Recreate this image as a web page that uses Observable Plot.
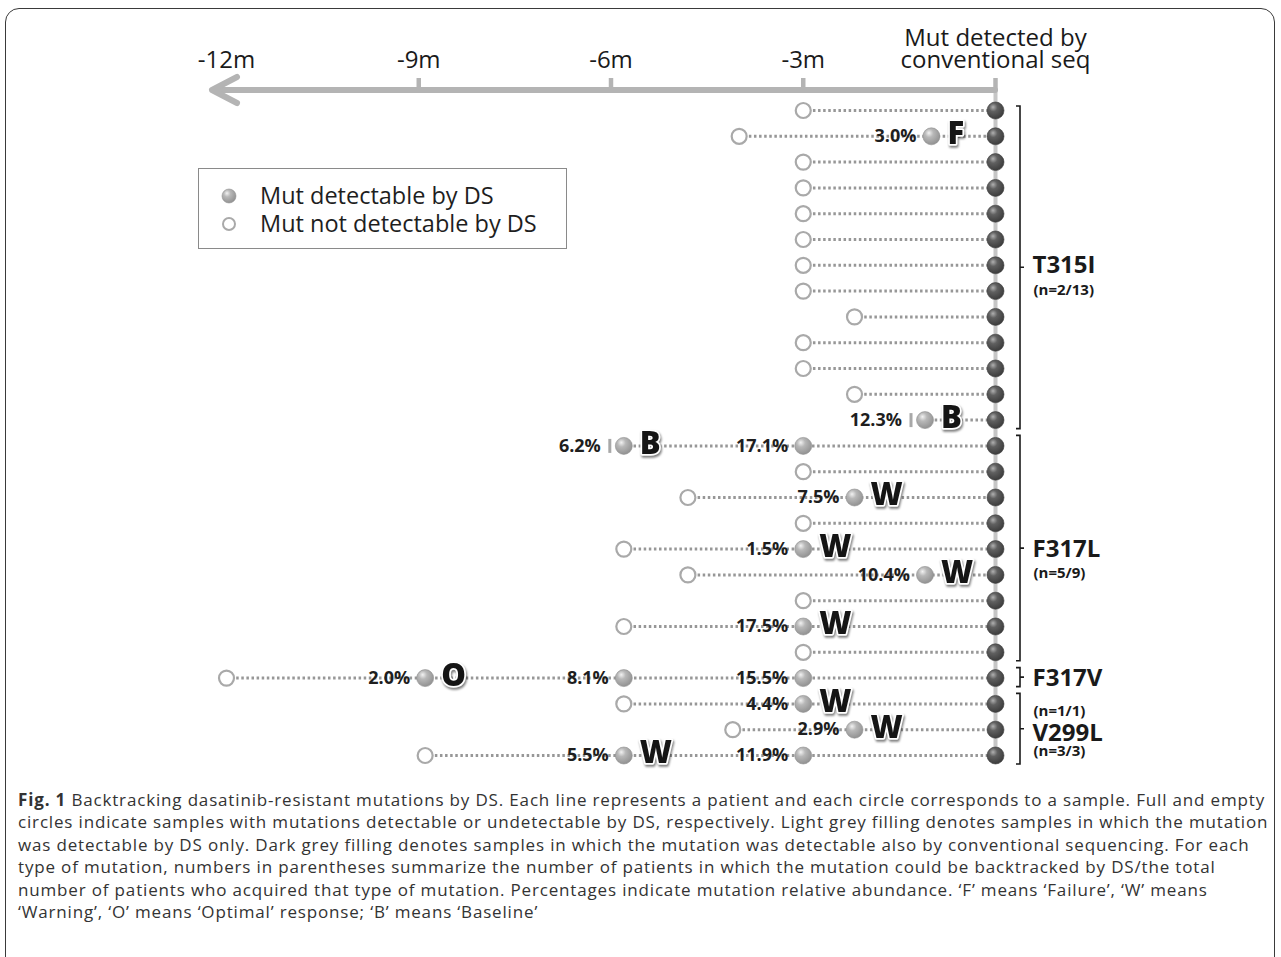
<!DOCTYPE html>
<html>
<head>
<meta charset="utf-8">
<script src="https://cdn.jsdelivr.net/npm/d3@7"></script>
<script src="https://cdn.jsdelivr.net/npm/@observablehq/plot@0.6"></script>
<style>
  body { margin: 0; background: #fff; }
  #wrap { position: relative; width: 1281px; height: 957px; overflow: hidden; font-family: "Open Sans", sans-serif; }
  #frame { position: absolute; left: 5px; top: 8px; width: 1270px; height: 1000px; border: 1.6px solid #3a3a3a; border-radius: 14px; box-sizing: border-box; }
  #chart { position: absolute; left: 0; top: 0; }
  #legend { position: absolute; left: 198px; top: 168px; width: 369px; height: 81px; border: 1.5px solid #8a8a8a; box-sizing: border-box; background: #fff; }
  #caption { position: absolute; left: 18px; top: 789px; font-size: 17px; line-height: 22.4px; color: #333; white-space: nowrap; }
  #caption div { white-space: nowrap; }
</style>
</head>
<body>
<div id="wrap">
  <div id="frame"></div>
  <div id="chart"></div>
  <div id="legend"></div>
  <div id="caption"></div>
</div>
<script>
// ---------------- DATA ----------------
const groupNames  = ["T315I", "F317L", "F317V", "V299L"];
const groupCounts = ["(n=2/13)", "(n=5/9)", "(n=1/1)", "(n=3/3)"];
const groupSizes  = [13, 9, 1, 3];

// Samples taken before conventional-seq detection (row = patient, top to bottom)
const sampleRow      = [0, 1, 1, 2, 3, 4, 5, 6, 7, 8, 9, 10, 11, 12, 13, 13, 14, 15, 15, 16, 17, 17, 18, 18, 19, 20, 20, 21, 22, 22, 22, 22, 23, 23, 24, 24, 25, 25, 25];
const sampleMonth    = [-3, -4.0, -1.0, -3, -3, -3, -3, -3, -3, -2.2, -3, -3, -2.2, -1.1, -5.8, -3, -3, -4.8, -2.2, -3, -5.8, -3, -4.8, -1.1, -3, -5.8, -3, -3, -12, -8.9, -5.8, -3, -5.8, -3, -4.1, -2.2, -8.9, -5.8, -3];
const sampleDetected = [0, 0, 1, 0, 0, 0, 0, 0, 0, 0, 0, 0, 0, 1, 1, 1, 0, 0, 1, 0, 0, 1, 0, 1, 0, 0, 1, 0, 0, 1, 1, 1, 0, 1, 0, 1, 0, 1, 1];
const samplePct      = ["", "", "3.0%", "", "", "", "", "", "", "", "", "", "", "12.3%", "6.2%", "17.1%", "", "", "7.5%", "", "", "1.5%", "", "10.4%", "", "", "17.5%", "", "", "2.0%", "8.1%", "15.5%", "", "4.4%", "", "2.9%", "", "5.5%", "11.9%"];
const sampleResp     = ["", "", "F", "", "", "", "", "", "", "", "", "", "", "B", "B", "", "", "", "W", "", "", "W", "", "W", "", "", "W", "", "", "O", "", "", "", "W", "", "W", "", "W", ""];

const convMonth = 0; // every patient: mutation detected by conventional seq at month 0

const tickMonths     = [-12, -9, -6, -3, 0];
const tickLabels     = ["-12m", "-9m", "-6m", "-3m", "Mut detected by\nconventional seq"];
const tickMarkMonths = [-9, -6, -3, 0];

const legendLabels = ["Mut detectable by DS", "Mut not detectable by DS"];

const captionLines = [
  "<b>Fig. 1</b> Backtracking dasatinib-resistant mutations by DS. Each line represents a patient and each circle corresponds to a sample. Full and empty",
  "circles indicate samples with mutations detectable or undetectable by DS, respectively. Light grey filling denotes samples in which the mutation",
  "was detectable by DS only. Dark grey filling denotes samples in which the mutation was detectable also by conventional sequencing. For each",
  "type of mutation, numbers in parentheses summarize the number of patients in which the mutation could be backtracked by DS/the total",
  "number of patients who acquired that type of mutation. Percentages indicate mutation relative abundance. \u2018F\u2019 means \u2018Failure\u2019, \u2018W\u2019 means",
  "\u2018Warning\u2019, \u2018O\u2019 means \u2018Optimal\u2019 response; \u2018B\u2019 means \u2018Baseline\u2019"
];

// ---------------- DERIVED ----------------
let acc = 0;
const groupData = groupNames.map((name, i) => {
  const start = acc; acc += groupSizes[i];
  const end = acc - 1;
  return {name, count: groupCounts[i], size: groupSizes[i], start, end, mid: (start + end) / 2};
});
const nRows = acc;
const samples = sampleRow.map((row, i) => ({
  row, month: sampleMonth[i], detected: !!sampleDetected[i], pct: samplePct[i], resp: sampleResp[i]
}));
const rowStart = d3.rollup(samples, v => d3.min(v, d => d.month), d => d.row);
const rows = d3.range(nRows).map(r => ({row: r, start: rowStart.get(r), month: convMonth}));
const labelOf = new Map(tickMonths.map((m, i) => [m, tickLabels[i]]));

const openS = samples.filter(d => !d.detected);
const dsS = samples.filter(d => d.detected);
const baseS = samples.filter(d => d.resp === "B");
const pctS = samples.filter(d => d.pct && d.resp !== "B");
const pctBaseS = samples.filter(d => d.pct && d.resp === "B");
const respS = samples.filter(d => d.resp);

// label placement (in row units) next to each bracket
const nameRow  = d => d.mid + (d.size === 3 ? 0.15 : 0);
const countRow = d => d.mid + (d.size === 1 ? 1.28 : d.size <= 3 ? 0.85 : 0.95);

const barSymbol = { draw(ctx, size) { const h = Math.sqrt(size / Math.PI); ctx.moveTo(0, -h); ctx.lineTo(0, h); } };

// custom marks
function axisArrow(index, scales, values, dims) {
  const y = dims.marginTop, xr = scales.x(0), xl = dims.marginLeft;
  const g = d3.create("svg:g").attr("fill", "none").attr("stroke", "#b4b4b4")
    .attr("stroke-width", 6).attr("stroke-linecap", "round").attr("stroke-linejoin", "round");
  g.append("path").attr("d", `M${xr},${y}H${xl + 2}`);
  g.append("path").attr("d", `M${xl + 25},${y - 13}L${xl},${y}L${xl + 25},${y + 13}`);
  return g.node();
}
function brackets(index, scales, values, dims) {
  const g = d3.create("svg:g").attr("fill", "none").attr("stroke", "#1a1a1a").attr("stroke-width", 1.6);
  const bx = scales.x(0) + 25;
  for (const grp of groupData) {
    const top = scales.y(grp.start) - (grp.start === 0 ? 4 : 10), bot = scales.y(grp.end) + 9, mid = (top + bot) / 2;
    g.append("path").attr("d", `M${bx - 4},${top}H${bx}V${bot}H${bx - 4}M${bx},${mid}H${bx + 4}`);
  }
  return g.node();
}

const chart = Plot.plot({
  width: 1281,
  height: 785,
  marginTop: 90, marginRight: 286, marginBottom: 23, marginLeft: 212,
  x: {domain: [-12, 0], range: [226, 995]},
  y: {domain: [0, nRows - 1], range: [110, 755], axis: null},
  style: {fontFamily: "'Open Sans', sans-serif", background: "transparent", overflow: "visible"},
  marks: [
    Plot.ruleX([convMonth], {stroke: "#c6c6c6", strokeWidth: 4}),
    axisArrow,
    Plot.axisX(tickMarkMonths, {anchor: "top", tickSize: 13, tickFormat: () => "", stroke: "#b4b4b4", strokeWidth: 4.5}),
    Plot.axisX(tickMonths, {anchor: "top", tickSize: 0, tickPadding: 23, tickFormat: d => labelOf.get(d), fontSize: 24, lineHeight: 0.88, color: "#1a1a1a"}),
    Plot.ruleY(rows, {y: "row", x1: "start", x2: "month", stroke: "#979797", strokeWidth: 3, strokeDasharray: "2.5 2.6"}),
    Plot.dot(openS, {x: "month", y: "row", r: 7.5, fill: "white", stroke: "#a9a9a9", strokeWidth: 2.2}),
    Plot.dot(dsS, {x: "month", y: "row", r: 8.5, fill: "url(#gLight)", stroke: "#909090", strokeWidth: 0.6}),
    Plot.dot(rows, {x: "month", y: "row", r: 8.5, fill: "url(#gDark)", stroke: "#3c3c3c", strokeWidth: 0.6}),
    Plot.dot(baseS, {x: "month", y: "row", symbol: barSymbol, r: 7, stroke: "#a8a8a8", strokeWidth: 3, dx: -14}),
    Plot.text(pctS, {x: "month", y: "row", text: "pct", dx: -15, textAnchor: "end", fontSize: 18, fontWeight: 700, fill: "#1e1e1e"}),
    Plot.text(pctBaseS, {x: "month", y: "row", text: "pct", dx: -23, textAnchor: "end", fontSize: 18, fontWeight: 700, fill: "#1e1e1e"}),
    Plot.text(respS, {x: "month", y: "row", text: "resp", dx: 16, dy: -2, textAnchor: "start", fontSize: 31, fontWeight: 800, fill: "#151515", stroke: "white", strokeWidth: 3.5}),
    brackets,
    Plot.text(groupData, {x: () => convMonth, y: nameRow, text: "name", dx: 37, textAnchor: "start", fontSize: 24, fontWeight: 700, fill: "#1a1a1a"}),
    Plot.text(groupData, {x: () => convMonth, y: countRow, text: "count", dx: 38, textAnchor: "start", fontSize: 15, fontWeight: 700, fill: "#1a1a1a"})
  ]
});

// gradients for sphere-like dots
const defs = d3.select(chart).insert("defs", ":first-child");
function grad(id, stops) {
  const g = defs.append("radialGradient").attr("id", id).attr("cx", "40%").attr("cy", "35%").attr("r", "70%").attr("fx", "35%").attr("fy", "30%");
  stops.forEach(([o, c]) => g.append("stop").attr("offset", o).attr("stop-color", c));
}
grad("gLight", [["0%", "#f2f2f2"], ["35%", "#b8b8b8"], ["100%", "#8e8e8e"]]);
grad("gDark", [["0%", "#b0b0b0"], ["35%", "#606060"], ["100%", "#383838"]]);

// shadow on response letters
d3.select(chart).selectAll("text").filter(function () { return /^[FBWO]$/.test(this.textContent); })
  .style("filter", "drop-shadow(1.5px 2px 1.2px rgba(0,0,0,0.5))");

document.getElementById("chart").appendChild(chart);

// legend
const lg = d3.select("#legend").append("svg").attr("width", 366).attr("height", 78);
lg.append("circle").attr("cx", 30).attr("cy", 27).attr("r", 7).attr("fill", "url(#gLight)").attr("stroke", "#909090").attr("stroke-width", 0.6);
lg.append("circle").attr("cx", 30).attr("cy", 55).attr("r", 6).attr("fill", "white").attr("stroke", "#a9a9a9").attr("stroke-width", 2);
legendLabels.forEach((t, i) => lg.append("text").attr("x", 61).attr("y", 27 + i * 28).attr("dy", "0.36em")
  .attr("font-family", "'Open Sans', sans-serif").attr("font-size", 23.5).attr("fill", "#1e1e1e").text(t));

// caption
const cap = document.getElementById("caption");
cap.innerHTML = captionLines.map(l => `<div>${l}</div>`).join("");
const first = cap.firstChild;
const range = document.createRange(); range.selectNodeContents(first);
const w = range.getBoundingClientRect().width;
const chars = first.textContent.length;
const ls = (1247 - w) / chars;
cap.style.letterSpacing = ls + "px";
</script>
</body>
</html>
